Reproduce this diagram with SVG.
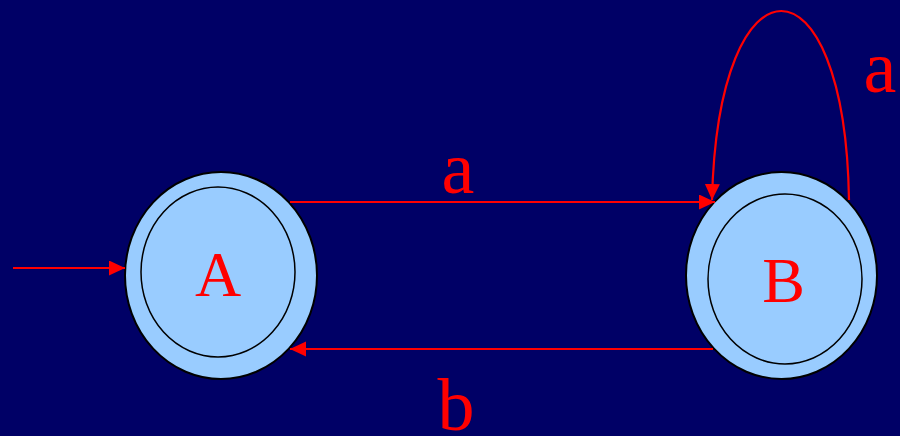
<svg xmlns="http://www.w3.org/2000/svg" width="900" height="436" viewBox="0 0 900 436">
<defs>
<style>
.outer{fill:#99CCFF;stroke:#000;stroke-width:2}
.inner{fill:none;stroke:#000;stroke-width:1.5}
.edge{fill:none;stroke:#FF0000;stroke-width:2.2}
.name{font-family:"Liberation Serif",serif;font-size:64px;fill:#FF0000;text-anchor:middle}
.lbl{font-family:"Liberation Serif",serif;font-size:74px;fill:#FF0000;text-anchor:middle}
</style>
<marker id="ah" markerUnits="userSpaceOnUse" markerWidth="17" markerHeight="16" refX="16" refY="7.5" orient="auto">
<path d="M0,0 L16,7.5 L0,15 z" fill="#FF0000"/>
</marker>
</defs>
<rect width="900" height="436" fill="#000066"/>
<g id="node-A">
<ellipse class="outer" cx="221" cy="275.5" rx="96" ry="103.5"/>
<ellipse class="inner" cx="218" cy="272" rx="77" ry="85"/>
<text class="name" x="218" y="296">A</text>
</g>
<g id="node-B">
<ellipse class="outer" cx="781.5" cy="275.5" rx="95.5" ry="103.5"/>
<ellipse class="inner" cx="785" cy="279" rx="77" ry="85"/>
<text class="name" x="783.5" y="302">B</text>
</g>
<g id="connectors">
<path class="edge" d="M13,268 L125,268" marker-end="url(#ah)"/>
<path class="edge" d="M290,202 L715,202" marker-end="url(#ah)"/>
<path class="edge" d="M713,349 L290,349" marker-end="url(#ah)"/>
<path class="edge" d="M849,200 C845,-52 718,-52 712,200" marker-end="url(#ah)"/>
<text class="lbl" x="458" y="193">a</text>
<text class="lbl" x="456" y="430">b</text>
<text class="lbl" x="880" y="92">a</text>
</g>
</svg>
